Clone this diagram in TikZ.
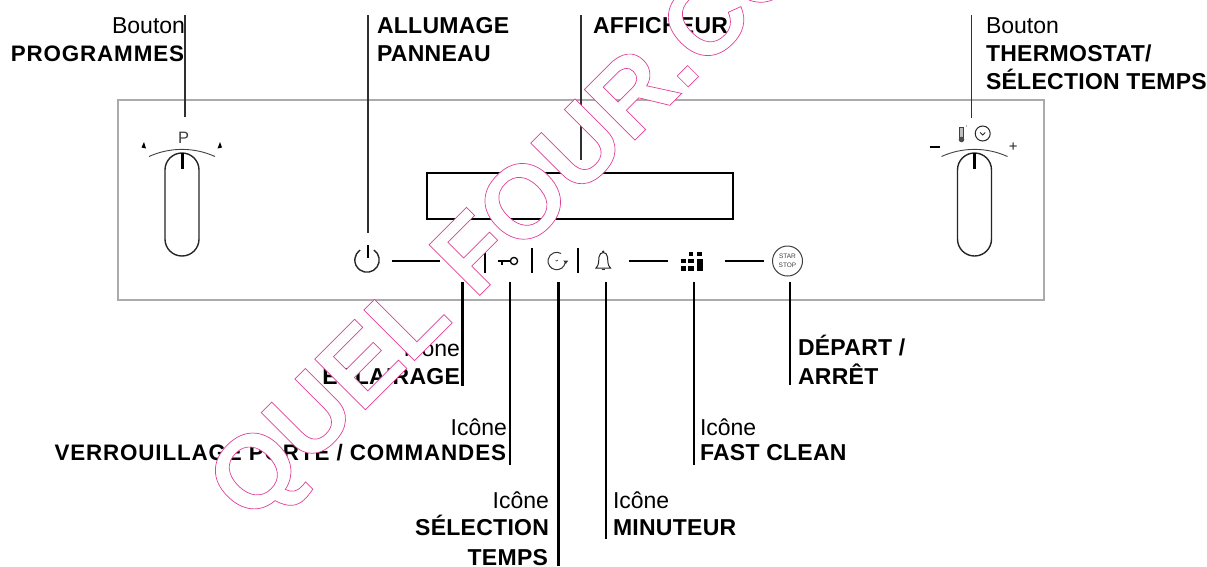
\documentclass[tikz,border=0pt]{standalone}
\usepackage{fontspec}
\setmainfont{Liberation Sans}
\newfontfamily\lblreg{Liberation Sans}
\newfontfamily\lblbold{Liberation Sans Bold}[LetterSpace=1.2]
\newfontfamily\lblwide{Liberation Sans Bold}[LetterSpace=3.8]
\newfontfamily\wmfont{Liberation Sans Bold}
\definecolor{panelgray}{HTML}{ABABAB}
\definecolor{leaddark}{HTML}{303030}
\tikzset{
 x=1pt,y=-1pt,
 lbl/.style={inner sep=0pt,outer sep=0pt,font=\fontsize{23}{28}\lblreg,text=black},
 bld/.style={inner sep=0pt,outer sep=0pt,font=\fontsize{23}{28}\lblbold,text=black},
 bldw/.style={inner sep=0pt,outer sep=0pt,font=\fontsize{22.4}{28}\lblwide,text=black},
 panel/.style={draw=panelgray,line width=2pt},
 lead/.style={draw=leaddark,line width=1.8pt},
 leadb/.style={draw=black,line width=1.8pt},
 leadt/.style={draw=black,line width=3pt},
 icon/.style={draw=black!85,line width=1.4pt},
 sep/.style={draw=black,line width=1.5pt},
}
\begin{document}
\begin{tikzpicture}
\useasboundingbox (0,0) rectangle (1207,566);
\fill[white] (0,0) rectangle (1207,566);
\draw[panel] (118,100) rectangle (1044,300);
\draw[black,line width=2pt] (427,173) rectangle (733,219);
% connector free ends
\foreach \n/\x/\a/\b in {pa/185/15/117,pb/368/15/233,pc/581/15/160,pd/971.5/15/118}{
 \coordinate (\n1) at (\x,\a); \coordinate (\n2) at (\x,\b);
 \draw[lead] (\n1) -- (\n2);}
\foreach \n/\x/\b in {qb/510/465,qd/606/539,qe/694/465,qf/790/385}{
 \coordinate (\n1) at (\x,282); \coordinate (\n2) at (\x,\b);
 \draw[leadb] (\n1) -- (\n2);}
\foreach \n/\x/\b in {qa/462.5/386,qc/558/566}{
 \coordinate (\n1) at (\x,282); \coordinate (\n2) at (\x,\b);
 \draw[leadt] (\n1) -- (\n2);}
% knobs
\foreach \c in {182,974.5}{
 \draw[icon,rounded corners=16.9pt] (\c-17,153) rectangle (\c+17,256);
 \draw[black,line width=3pt] (\c,153) -- (\c,169);
 \draw[black!75,line width=.9pt] (\c-33,156.5) .. controls (\c-12,147) and (\c+12,147) .. (\c+33,156.5);
}
\node[inner sep=0pt,font=\fontsize{16.5}{16}\selectfont,text=black!75] (pk) at (183.5,137.5) {P};
\fill (141.5,147.5) -- (144,142) -- (146,148.5) -- cycle;
\fill (217.5,148.5) -- (220,142) -- (222,147.5) -- cycle;
% thermostat symbols
\draw[black!75,line width=.9pt,fill=black!25] (959.5,127) rectangle (963.5,139);
\fill[black!70] (961.5,139.5) circle (2.8);
\fill[black!60] (966.5,126) circle (.6);
\draw[black!85,line width=1pt] (982.7,133.5) circle (7.5);
\draw[black!85,line width=.9pt] (980.2,132.5) -- (982.7,135) -- (985.2,132.5);
\draw[black,line width=2pt] (929.5,147) -- (939.5,147);
\node[inner sep=0pt,font=\fontsize{15}{15}\selectfont,text=black!85] (plus) at (1013.2,147) {+};
% power
\draw[icon] ([shift={(-55:12.2)}]367,260) arc (-55:235:12.2);
\draw[black,line width=2pt] (367.5,245) -- (367.5,258);
\coordinate (d1a) at (392,261); \coordinate (d1b) at (440,261);
\draw[sep] (d1a) -- (d1b);
% icon separators
\foreach \x in {485,532,578}{\draw[sep] (\x,248) -- (\x,273);}
% key
\draw[black,line width=1.3pt] (514,261) circle (3.6);
\draw[black,line width=2.6pt] (498,261) -- (510.5,261);
\draw[black,line width=2pt] (501.5,261) -- (501.5,265);
% clock
\draw[black!80,line width=1pt] ([shift={(10:8.7)}]556.7,261) arc (10:300:8.7);
\fill[black!80] (563.3,260.5) -- (568.3,260.5) -- (565.8,264) -- cycle;
\draw[black!70,line width=.7pt] (555.5,260) -- (556.5,261) -- (558,260);
% bell
\draw[black!85,line width=1pt] (596,268) .. controls (599,265) and (598.5,262) .. (599,257) .. controls (599.5,251) and (607,251) .. (607.5,257) .. controls (608,262) and (607.5,265) .. (610.5,268) -- cycle;
\draw[black!85,line width=1pt] (601.5,269.5) -- (605,269.5);
\fill[black!85] (603.2,251.5) circle (1.2);
% dashes
\coordinate (d2a) at (629,261); \coordinate (d2b) at (668,261);
\coordinate (d3a) at (725,261); \coordinate (d3b) at (764,261);
\draw[sep] (d2a) -- (d2b);
\draw[sep] (d3a) -- (d3b);
% grid
\fill (688.5,252) rectangle (692.5,256);
\fill (697,252) rectangle (701.5,256);
\fill (681,258.5) rectangle (686,263);
\fill (688,258.5) rectangle (693.5,263);
\fill (681,265.5) rectangle (686,271);
\fill (688,265.5) rectangle (693.5,271);
\fill (697,258.5) rectangle (703,271);
% start stop
\node[circle,draw=black!75,line width=1pt,minimum size=30pt,inner sep=0pt,align=center,font=\fontsize{6.5}{9}\selectfont,text=black!75] (start) at (787.5,261) {STAR\\STOP};
% labels
\node[lbl,anchor=base east] (t1) at (185,33) {Bouton};
\node[bldw,anchor=base east] (t2) at (184,61) {PROGRAMMES};
\node[bld,anchor=base west] (t3) at (377,33) {ALLUMAGE};
\node[bld,anchor=base west] (t4) at (377,61) {PANNEAU};
\node[bld,anchor=base west] (t5) at (593,33) {AFFICHEUR};
\node[lbl,anchor=base west] (t6) at (986,33) {Bouton};
\node[bld,anchor=base west] (t7) at (986,61) {THERMOSTAT/};
\node[bld,anchor=base west] (t8) at (986,89) {SÉLECTION TEMPS};
\node[lbl,anchor=base east] (t9) at (460,356) {Icône};
\node[bld,anchor=base east] (t10) at (460,384) {ÉCLAIRAGE};
\node[lbl,anchor=base east] (t11) at (507,435) {Icône};
\node[bldw,anchor=base east] (t12) at (506,460) {VERROUILLAGE PORTE / COMMANDES};
\node[lbl,anchor=base east] (t13) at (549,508) {Icône};
\node[bld,anchor=base east] (t14) at (549,535) {SÉLECTION};
\node[bld,anchor=base east] (t15) at (548,565) {TEMPS};
\node[lbl,anchor=base west] (t16) at (613,508) {Icône};
\node[bld,anchor=base west] (t17) at (613,535) {MINUTEUR};
\node[lbl,anchor=base west] (t18) at (700,435) {Icône};
\node[bld,anchor=base west] (t19) at (700,460) {FAST CLEAN};
\node[bld,anchor=base west] (t20) at (798,355) {DÉPART /};
\node[bld,anchor=base west] (t21) at (798,384) {ARRÊT};
% watermark
\begin{scope}
\clip (0,0) rectangle (1207,566);
\node[inner sep=0pt,rotate=45,anchor=base west,font=\fontsize{104}{104}\wmfont] (wm) at (250,525)
 {\special{pdf:code 2 Tr 0.7 w 1 1 1 rg 0.878 0.25 0.604 RG}QUEL FOUR.COM\special{pdf:code 0 Tr 0 g 0 G}};
\end{scope}
\end{tikzpicture}
\end{document}
